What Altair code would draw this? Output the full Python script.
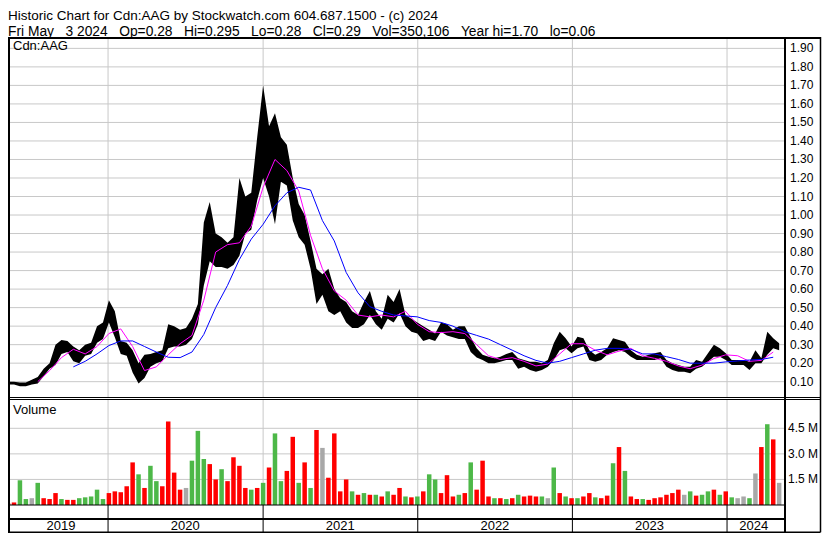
import altair as alt
import pandas as pd

# ---------------- text ----------------
HEADER_LINE_1 = "Historic Chart for Cdn:AAG by Stockwatch.com 604.687.1500 - (c) 2024"
SP = "\u00a0\u00a0\u00a0"
HEADER_LINE_2 = ("Fri May" + SP + "3 2024" + SP + "Op=0.28" + SP + "Hi=0.295" + SP + "Lo=0.28"
                 + SP + "Cl=0.29" + SP + "Vol=350,106" + SP + "Year hi=1.70" + SP + "lo=0.06")
SYMBOL = "Cdn:AAG"
VOLUME_TITLE = "Volume"

# ---------------- data (bi-weekly high / low) ----------------
BAR_START = "2019-05-10"
high = [0.10, 0.10, 0.095, 0.095, 0.11, 0.125, 0.17, 0.20, 0.30, 0.325,
        0.32, 0.29, 0.27, 0.30, 0.31, 0.40, 0.42, 0.54, 0.48, 0.32,
        0.31, 0.27, 0.20, 0.245, 0.25, 0.26, 0.27, 0.41, 0.40, 0.38,
        0.39, 0.44, 0.52, 0.96, 1.07, 0.90, 0.88, 0.85, 0.88, 1.20,
        1.10, 1.12, 1.42, 1.70, 1.48, 1.55, 1.42, 1.38, 1.20, 1.06,
        1.00, 0.86, 0.71, 0.68, 0.71, 0.60, 0.55, 0.53, 0.48, 0.46,
        0.53, 0.59, 0.48, 0.44, 0.57, 0.53, 0.60, 0.46, 0.44, 0.42,
        0.40, 0.38, 0.36, 0.42, 0.41, 0.38, 0.40, 0.40, 0.34, 0.28,
        0.245, 0.235, 0.226, 0.235, 0.25, 0.26, 0.226, 0.217, 0.208, 0.208,
        0.20, 0.217, 0.307, 0.37, 0.334, 0.29, 0.343, 0.334, 0.27, 0.245,
        0.26, 0.28, 0.334, 0.325, 0.316, 0.27, 0.245, 0.235, 0.245, 0.253,
        0.26, 0.217, 0.20, 0.19, 0.18, 0.18, 0.217, 0.208, 0.253, 0.30,
        0.28, 0.253, 0.217, 0.217, 0.217, 0.208, 0.27, 0.226, 0.37, 0.334,
        0.307]
low = [0.085, 0.085, 0.075, 0.075, 0.085, 0.09, 0.13, 0.17, 0.19, 0.25,
       0.26, 0.21, 0.20, 0.24, 0.25, 0.31, 0.33, 0.42, 0.34, 0.25,
       0.24, 0.15, 0.09, 0.12, 0.18, 0.20, 0.21, 0.28, 0.29, 0.29,
       0.30, 0.33, 0.41, 0.62, 0.75, 0.72, 0.72, 0.71, 0.73, 0.78,
       0.90, 0.92, 1.08, 1.20, 1.10, 0.95, 1.18, 1.16, 0.97, 0.88,
       0.84, 0.71, 0.52, 0.57, 0.48, 0.46, 0.48, 0.42, 0.39, 0.39,
       0.41, 0.46, 0.41, 0.38, 0.44, 0.42, 0.47, 0.40, 0.37, 0.36,
       0.32, 0.33, 0.32, 0.37, 0.35, 0.34, 0.33, 0.33, 0.26, 0.23,
       0.217, 0.20, 0.20, 0.208, 0.217, 0.217, 0.17, 0.18, 0.163, 0.154,
       0.163, 0.18, 0.217, 0.27, 0.28, 0.253, 0.28, 0.29, 0.217, 0.208,
       0.217, 0.245, 0.26, 0.27, 0.26, 0.235, 0.217, 0.217, 0.217, 0.217,
       0.226, 0.18, 0.163, 0.154, 0.154, 0.145, 0.17, 0.18, 0.208, 0.235,
       0.235, 0.217, 0.19, 0.19, 0.19, 0.163, 0.20, 0.20, 0.245, 0.28,
       0.27]
# volume in millions and the direction of the bar colour
volume = [0.10, 0.15, 1.45, 0.35, 0.40, 1.30, 0.40, 0.35, 0.70, 0.35,
          0.30, 0.30, 0.40, 0.45, 0.50, 0.90, 0.35, 0.70, 0.80, 0.75,
          1.10, 2.50, 1.80, 1.00, 2.30, 1.40, 1.10, 4.90, 1.90, 0.90,
          1.00, 2.60, 4.35, 2.70, 2.40, 1.50, 2.10, 1.40, 2.80, 2.30,
          1.00, 0.90, 1.00, 1.30, 2.20, 4.20, 1.40, 2.00, 4.00, 1.30,
          2.50, 1.00, 4.40, 3.35, 1.60, 4.20, 0.80, 1.50, 0.80, 0.60,
          0.70, 0.60, 0.60, 0.50, 0.80, 0.60, 1.00, 0.50, 0.45, 0.50,
          0.80, 1.80, 1.50, 0.70, 1.75, 0.50, 0.60, 0.70, 2.50, 0.90,
          2.60, 0.50, 0.40, 0.40, 0.35, 0.40, 0.60, 0.50, 0.55, 0.50,
          0.50, 0.40, 2.20, 0.70, 0.50, 0.40, 0.40, 0.50, 0.70, 0.45,
          0.40, 0.55, 2.45, 3.40, 2.00, 0.50, 0.35, 0.35, 0.30, 0.40,
          0.45, 0.60, 0.70, 0.90, 0.60, 0.80, 0.55, 0.60, 0.80, 0.90,
          0.60, 0.80, 0.45, 0.40, 0.50, 0.40, 1.85, 3.40, 4.74, 3.85,
          1.30]
direction = ["down", "down", "up", "up", "flat", "up", "down", "down", "down", "up",
             "down", "down", "up", "up", "up", "up", "up", "down", "down", "down",
             "down", "down", "up", "down", "up", "up", "down", "down", "down", "down",
             "flat", "up", "up", "up", "down", "down", "up", "down", "down", "down",
             "down", "up", "down", "up", "down", "up", "up", "down", "down", "up",
             "down", "up", "down", "flat", "down", "down", "down", "down", "up", "down",
             "up", "down", "up", "down", "up", "down", "down", "up", "down", "up",
             "down", "up", "up", "down", "down", "down", "up", "down", "up", "down",
             "down", "down", "up", "down", "up", "down", "up", "down", "down", "down",
             "up", "flat", "up", "down", "up", "down", "up", "down", "down", "up",
             "down", "down", "up", "down", "up", "down", "down", "up", "down", "down",
             "down", "down", "down", "down", "flat", "up", "down", "up", "up", "down",
             "up", "down", "up", "flat", "flat", "up", "flat", "down", "up", "down",
             "flat"]

# moving averages, sampled every 4 weeks
MA_SHORT_START = "2019-07-19"
ma_short = [0.10, 0.16, 0.23, 0.275, 0.25, 0.29, 0.36, 0.385, 0.29, 0.16,
            0.18, 0.245, 0.305, 0.35, 0.54, 0.80, 0.84, 0.85, 0.94, 1.15,
            1.30, 1.24, 1.13, 0.89, 0.71, 0.59, 0.54, 0.46, 0.45, 0.46,
            0.45, 0.48, 0.41, 0.37, 0.365, 0.37, 0.36, 0.30, 0.24, 0.22,
            0.23, 0.21, 0.185, 0.195, 0.25, 0.305, 0.305, 0.27, 0.245, 0.265,
            0.28, 0.24, 0.226, 0.21, 0.185, 0.17, 0.19, 0.225, 0.245, 0.24,
            0.21, 0.215, 0.26]
MA_LONG_START = "2019-10-11"
ma_long = [0.18, 0.21, 0.25, 0.295, 0.32, 0.32, 0.29, 0.26, 0.232, 0.23,
           0.26, 0.355, 0.50, 0.62, 0.76, 0.87, 0.95, 1.05, 1.12, 1.15,
           1.135, 0.97, 0.86, 0.69, 0.58, 0.505, 0.48, 0.46, 0.455, 0.45,
           0.43, 0.42, 0.40, 0.37, 0.35, 0.33, 0.30, 0.27, 0.24, 0.215,
           0.20, 0.21, 0.23, 0.25, 0.27, 0.28, 0.28, 0.275, 0.25, 0.25,
           0.235, 0.22, 0.20, 0.20, 0.20, 0.207, 0.212, 0.217, 0.22, 0.232]

year_starts = ["2020-01-01", "2021-01-01", "2022-01-01", "2023-01-01", "2024-01-01"]
year_labels = ["2019", "2020", "2021", "2022", "2023", "2024"]
year_label_dates = ["2019-09-12", "2020-07-01", "2021-07-02", "2022-07-02", "2023-07-02", "2024-03-04"]
price_ticks = [0.1, 0.2, 0.3, 0.4, 0.5, 0.6, 0.7, 0.8, 0.9, 1.0,
               1.1, 1.2, 1.3, 1.4, 1.5, 1.6, 1.7, 1.8, 1.9]
volume_ticks = [1.5, 3.0, 4.5]

# ---------------- tables ----------------
bar_dates = pd.date_range(BAR_START, periods=len(high), freq="14D").strftime("%Y-%m-%d").tolist()
bars_df = pd.DataFrame({"date": bar_dates, "high": high, "low": low,
                        "volume": volume, "dir": direction})
ma_s_df = pd.DataFrame({"date": pd.date_range(MA_SHORT_START, periods=len(ma_short), freq="28D").strftime("%Y-%m-%d"),
                        "value": ma_short})
ma_l_df = pd.DataFrame({"date": pd.date_range(MA_LONG_START, periods=len(ma_long), freq="28D").strftime("%Y-%m-%d"),
                        "value": ma_long})
years_df = pd.DataFrame({"date": year_starts})
labels_df = pd.DataFrame({"date": year_label_dates, "year": year_labels})
pticks_df = pd.DataFrame({"v": price_ticks, "t": ["%.2f" % v for v in price_ticks]})
vticks_df = pd.DataFrame({"v": volume_ticks, "t": ["%.1f M" % v for v in volume_ticks]})
one = pd.DataFrame({"k": [0]})

# ---------------- layout (pixels inside the chart) ----------------
FONT = "Liberation Sans"
TOTAL_W, TOTAL_H = 814, 525
PLOT_L, PLOT_R = 1, 777          # plot area, left/right
RIGHT_EDGE = 812.5
HEAD_LINE = 30                   # line under the header
PRICE_BOT = 389.5                # price panel bottom
VOL_TOP = 391.5
VOL_BOT = 497
YEAR_LINE = 511
BOTTOM = 524.25
GRID = "#C8C8C8"
GREEN, RED, GREY = "#4DB848", "#FF0000", "#A8A8A8"

x_scale = alt.Scale(domain=[alt.DateTime(year=2019, month=5, date=24),
                            alt.DateTime(year=2024, month=5, date=5)],
                    range=[PLOT_L, PLOT_R])
X = alt.X("date:T", scale=x_scale, axis=None)
y_price = alt.Scale(domain=[0, 1.956], range=[392.2, HEAD_LINE], nice=False, zero=False)
y_vol = alt.Scale(domain=[0, 4.5], range=[VOL_BOT, 420.3], nice=False, zero=False)


def hrule(y, x1, x2, width=1.0, color="black"):
    return alt.Chart(one).mark_rule(color=color, strokeWidth=width).encode(
        x=alt.value(x1), x2=alt.value(x2), y=alt.value(y))


def vrule(x, y1, y2, width=1.0, color="black"):
    return alt.Chart(one).mark_rule(color=color, strokeWidth=width).encode(
        x=alt.value(x), y=alt.value(y1), y2=alt.value(y2))


def label(text, x, y, size=13, align="left", baseline="middle"):
    return alt.Chart(pd.DataFrame({"t": [text]})).mark_text(
        align=align, baseline=baseline, font=FONT, fontSize=size, color="black"
    ).encode(x=alt.value(x), y=alt.value(y), text="t:N")


# ---------------- price panel ----------------
price = alt.layer(
    alt.Chart(pticks_df).mark_rule(color=GRID, strokeWidth=1).encode(
        y=alt.Y("v:Q", scale=y_price, axis=None), x=alt.value(PLOT_L), x2=alt.value(PLOT_R)),
    alt.Chart(years_df).mark_rule(color=GRID, strokeWidth=1).encode(
        x=X, y=alt.value(HEAD_LINE), y2=alt.value(PRICE_BOT)),
    alt.Chart(bars_df).mark_area(color="black").encode(
        x=X, y=alt.Y("low:Q", scale=y_price, axis=None), y2="high:Q"),
    alt.Chart(ma_s_df).mark_line(color="#FF00FF", strokeWidth=1).encode(
        x=X, y=alt.Y("value:Q", scale=y_price, axis=None)),
    alt.Chart(ma_l_df).mark_line(color="#0000FF", strokeWidth=1).encode(
        x=X, y=alt.Y("value:Q", scale=y_price, axis=None)),
    alt.Chart(pticks_df).mark_text(align="left", baseline="middle", font=FONT,
                                   fontSize=12, color="black").encode(
        y=alt.Y("v:Q", scale=y_price, axis=None), x=alt.value(PLOT_R + 5), text="t:N"),
)

# ---------------- volume panel ----------------
vol = alt.layer(
    alt.Chart(vticks_df).mark_rule(color=GRID, strokeWidth=1).encode(
        y=alt.Y("v:Q", scale=y_vol, axis=None), x=alt.value(PLOT_L), x2=alt.value(PLOT_R)),
    alt.Chart(years_df).mark_rule(color=GRID, strokeWidth=1).encode(
        x=X, y=alt.value(VOL_TOP), y2=alt.value(VOL_BOT)),
    alt.Chart(bars_df).mark_bar(size=4.5).encode(
        x=X, y=alt.Y("volume:Q", scale=y_vol, axis=None),
        color=alt.Color("dir:N", scale=alt.Scale(domain=["up", "down", "flat"],
                                                 range=[GREEN, RED, GREY]), legend=None)),
    alt.Chart(vticks_df).mark_text(align="left", baseline="middle", font=FONT,
                                   fontSize=12, color="black").encode(
        y=alt.Y("v:Q", scale=y_vol, axis=None), x=alt.value(PLOT_R + 3), text="t:N"),
)

# ---------------- frame, header and year row ----------------
frame = alt.layer(
    label(HEADER_LINE_1, 0, 12.4, size=13.5, baseline="alphabetic"),
    label(HEADER_LINE_2, 0, 27.8, size=13.8, baseline="alphabetic"),
    label(SYMBOL, 5, HEAD_LINE + 8),
    label(VOLUME_TITLE, 5, VOL_TOP + 10),
    alt.Chart(years_df).mark_rule(color="black", strokeWidth=1).encode(
        x=X, y=alt.value(VOL_BOT), y2=alt.value(BOTTOM)),
    alt.Chart(labels_df).mark_text(font=FONT, fontSize=13, baseline="middle", color="black").encode(
        x=X, y=alt.value((YEAR_LINE + BOTTOM) / 2 + 0.5), text="year:N"),
    hrule(HEAD_LINE, 0, RIGHT_EDGE, 2),
    hrule(PRICE_BOT, 0, RIGHT_EDGE, 1),
    hrule(VOL_TOP, 0, RIGHT_EDGE, 1),
    hrule(VOL_BOT, 0, PLOT_R, 1.2),
    hrule(YEAR_LINE, 0, PLOT_R, 2),
    hrule(BOTTOM, 0, RIGHT_EDGE, 1.5),
    vrule(1, HEAD_LINE, BOTTOM, 2),
    vrule(PLOT_R, HEAD_LINE, BOTTOM, 2),
    vrule(RIGHT_EDGE, HEAD_LINE - 1, BOTTOM, 1.5),
)

chart = alt.layer(price, vol, frame).resolve_scale(y="independent").properties(
    width=TOTAL_W, height=TOTAL_H,
    autosize=alt.AutoSizeParams(type="none"),
    padding=0,
    background="white",
).configure_view(stroke="transparent")

chart.save("out.html", embed_options={"renderer": "svg", "actions": False})
